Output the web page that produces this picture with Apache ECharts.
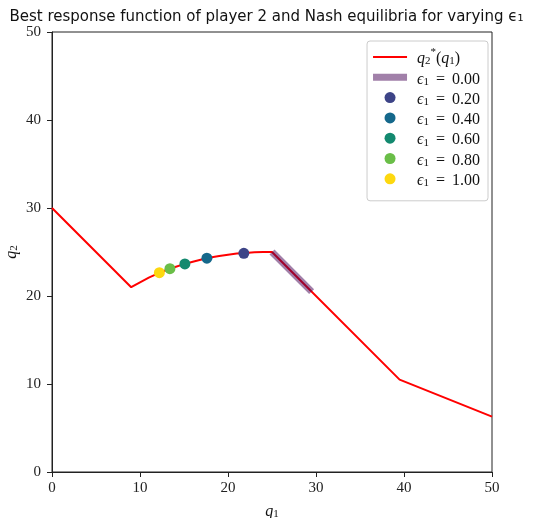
<!DOCTYPE html>
<html>
<head>
<meta charset="utf-8">
<script src="https://cdn.jsdelivr.net/npm/echarts@6/dist/echarts.min.js"></script>
<style>html,body{margin:0;padding:0;background:#fff}#c{width:533px;height:518px}</style>
</head>
<body>
<div id="c"></div>
<script>
// Best response curve q2*(q1)
const brX = [0, 9, 10, 11, 12, 13, 14, 15, 16, 17, 18, 19, 20, 21, 22, 23, 24, 25, 39.5, 50];
const brY = [30, 21.0, 21.55, 22.08, 22.55, 22.95, 23.3, 23.62, 23.9, 24.15, 24.38, 24.55, 24.7, 24.82, 24.9, 24.96, 25.0, 25.0, 10.5, 6.3];
// epsilon = 0.00: segment of equilibria
const eps0X = [25, 29.5];
const eps0Y = [25, 20.5];
// Nash equilibria for other epsilons
const epsLabels = ['0.20', '0.40', '0.60', '0.80', '1.00'];
const eqX = [21.8, 17.6, 15.1, 13.4, 12.2];
const eqY = [24.85, 24.3, 23.65, 23.1, 22.65];
const eqColors = ['#3d4487', '#15688b', '#13896f', '#6abe48', '#fdd80f'];
const xTicks = [0, 10, 20, 30, 40, 50];
const yTicks = [0, 10, 20, 30, 40, 50];

const serif = '"Liberation Serif", "DejaVu Serif", serif';
const series = [];
const legendData = [];
series.push({
  name: 'br', type: 'line', data: brX.map((x, i) => [x, brY[i]]),
  showSymbol: false, symbol: 'none', lineStyle: {color: '#ff0000', width: 2}, itemStyle: {color: '#ff0000'},
  z: 2, animation: false
});
legendData.push({name: 'br', icon: 'path://M0,0L34,0L34,2L0,2Z', itemStyle: {color: '#ff0000'}});
series.push({
  name: 'e0', type: 'line', data: eps0X.map((x, i) => [x, eps0Y[i]]),
  showSymbol: false, symbol: 'none', lineStyle: {color: 'rgba(68,1,84,0.5)', width: 7}, itemStyle: {color: 'rgba(68,1,84,0.5)'},
  z: 3, animation: false
});
legendData.push({name: 'e0', icon: 'path://M0,0L34,0L34,7L0,7Z', itemStyle: {color: 'rgba(68,1,84,0.5)'}});
epsLabels.forEach((l, i) => {
  series.push({
    name: 'e' + l, type: 'scatter', data: [[eqX[i], eqY[i]]], symbolSize: 11,
    itemStyle: {color: eqColors[i], opacity: 1}, z: 4, animation: false
  });
  legendData.push({name: 'e' + l, icon: 'circle'});
});

const rt = (o) => Object.assign({fontFamily: serif, fontSize: 16, color: '#111', lineHeight: 20, verticalAlign: 'bottom'}, o);
const richSet = {
  i: rt({fontStyle: 'italic'}),
  n: rt({}),
  eq: rt({padding: [0, 7, 0, 7]}),
  sb: rt({fontSize: 11, lineHeight: 9, verticalAlign: 'bottom'}),
  sp: rt({fontSize: 11, lineHeight: 17, verticalAlign: 'top'})
};

const chart = echarts.init(document.getElementById('c'), null, {renderer: 'canvas'});
chart.setOption({
  animation: false,
  backgroundColor: '#fff',
  title: {
    text: 'Best response function of player 2 and Nash equilibria for varying ϵ₁',
    left: 'center', top: 5,
    textStyle: {fontFamily: '"DejaVu Sans", sans-serif', fontSize: 15, fontWeight: 'normal', color: '#111'}
  },
  grid: {left: 52, right: 41, top: 32, bottom: 46, show: true, borderColor: '#222', borderWidth: 1,
    backgroundColor: 'transparent', containLabel: false, outerBoundsMode: 'none'},
  legend: {
    orient: 'vertical', right: 45, top: 41, padding: [6, 8, 12, 6],
    backgroundColor: '#fff', borderColor: '#ccc', borderWidth: 1, borderRadius: 3,
    itemWidth: 34, itemHeight: 11, itemGap: 0.3,
    symbolKeepAspect: true,
    data: legendData,
    formatter: function (name) {
      if (name === 'br') return '{i|q}{sb|2}{sp|*}{n|(}{i|q}{sb|1}{n|)}';
      const v = name.slice(1) === '0' ? '0.00' : name.slice(1);
      return '{i|ϵ}{sb|1}{eq|=}{n|' + v + '}';
    },
    textStyle: {
      fontFamily: serif, fontSize: 16, color: '#111', lineHeight: 20, padding: [0, 0, 0, 5],
      rich: richSet
    }
  },
  xAxis: {
    type: 'value', min: 0, max: 50, interval: 10,
    name: '{i|q}{sb|1}', nameLocation: 'middle', nameGap: 28, nameMoveOverlap: false,
    nameTextStyle: {fontFamily: serif, fontSize: 16, color: '#111', rich: richSet},
    axisLine: {show: true, onZero: false, lineStyle: {color: '#222', width: 1}},
    axisTick: {show: true, inside: false, length: 5, lineStyle: {color: '#222'}},
    axisLabel: {fontFamily: serif, fontSize: 15, color: '#222', margin: 9,
      formatter: v => xTicks.includes(v) ? String(v) : ''},
    splitLine: {show: false}
  },
  yAxis: {
    type: 'value', min: 0, max: 50, interval: 10,
    name: '{i|q}{sb|2}', nameLocation: 'middle', nameGap: 32, nameRotate: 90, nameMoveOverlap: false,
    nameTextStyle: {fontFamily: serif, fontSize: 16, color: '#111', rich: richSet},
    axisLine: {show: true, onZero: false, lineStyle: {color: '#222', width: 1}},
    axisTick: {show: true, inside: false, length: 5, lineStyle: {color: '#222'}},
    axisLabel: {fontFamily: serif, fontSize: 15, color: '#222', margin: 11,
      formatter: v => yTicks.includes(v) ? String(v) : ''},
    splitLine: {show: false}
  },
  series: series
});
</script>
</body>
</html>
